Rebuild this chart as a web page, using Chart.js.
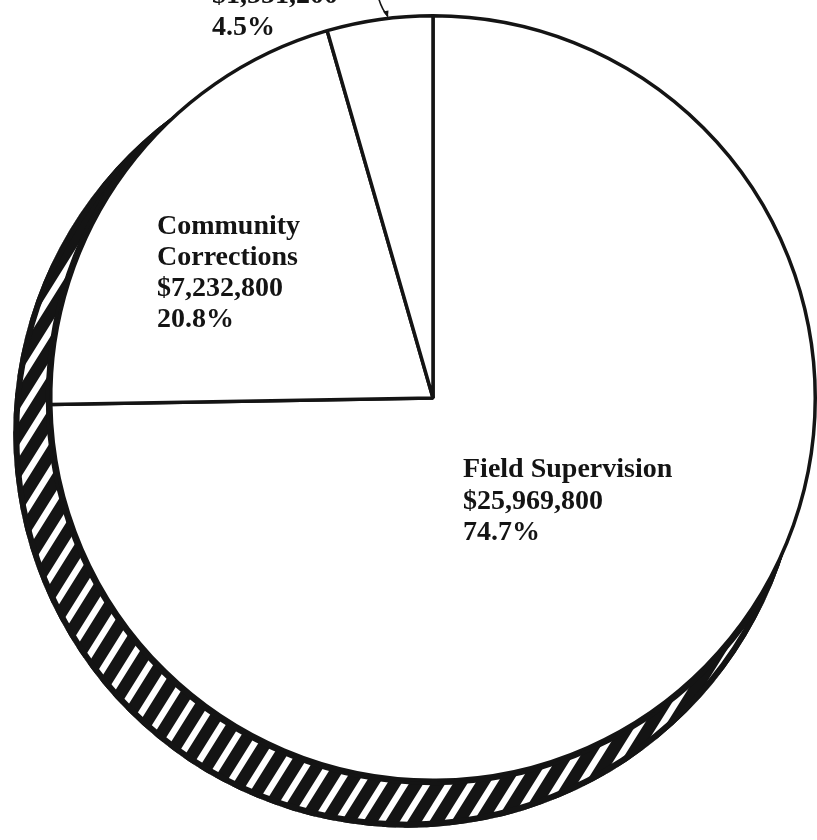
<!DOCTYPE html>
<html>
<head>
<meta charset="utf-8">
<script src="https://cdn.jsdelivr.net/npm/chart.js@4.4.1/dist/chart.umd.min.js"></script>
<style>
  body { margin: 0; background: #fff; }
  #wrap { width: 817px; height: 840px; position: relative; }
</style>
</head>
<body>
<div id="wrap"><canvas id="pie"></canvas></div>
<script>
// budget split (clockwise from 12 o'clock)
const programs = ['Field Supervision', 'Community\nCorrections', ''];
const amounts = [25969800, 7232800, 1551200];
const percents = ['74.7%', '20.8%', '4.5%'];

const ink = '#141414';
const labelFont = 'bold 28px "Liberation Serif", "Times New Roman", serif';

function money(v) {
  return '$' + v.toLocaleString('en-US');
}

// hatched rim under the pie, drawn from the arc geometry
const rimPlugin = {
  id: 'rim',
  beforeDatasetsDraw(chart) {
    const arc = chart.getDatasetMeta(0).data[0];
    if (!arc) return;
    const { x, y, outerRadius: r } = arc.getProps(['x', 'y', 'outerRadius'], true);
    const ox = x - 0.066 * r, oy = y + 0.092 * r, R = r * 1.032;
    const ctx = chart.ctx;
    ctx.save();
    ctx.beginPath();
    ctx.arc(ox, oy, R, 0, Math.PI * 2);
    ctx.moveTo(x + r, y);
    ctx.arc(x, y, r, 0, Math.PI * 2);
    ctx.clip('evenodd');
    ctx.fillStyle = ink;
    ctx.fillRect(0, 0, chart.width, chart.height);
    // white diagonal stripes
    ctx.strokeStyle = '#fff';
    ctx.lineWidth = 6.5;
    const slope = Math.tan(58 * Math.PI / 180);
    const h = chart.height;
    for (let sx = -h; sx < chart.width + h; sx += 22) {
      ctx.beginPath();
      ctx.moveTo(sx, h);
      ctx.lineTo(sx + h / slope, 0);
      ctx.stroke();
    }
    // black margins along both edges of the rim
    ctx.strokeStyle = ink;
    ctx.lineWidth = 12;
    ctx.beginPath();
    ctx.arc(ox, oy, R, 0, Math.PI * 2);
    ctx.stroke();
    ctx.lineWidth = 10;
    ctx.beginPath();
    ctx.arc(x, y, r, 0, Math.PI * 2);
    ctx.stroke();
    ctx.restore();
  },
  afterDatasetsDraw(chart) {
    const meta = chart.getDatasetMeta(0);
    const first = meta.data[0];
    const { x, y, outerRadius: r } = first.getProps(['x', 'y', 'outerRadius'], true);
    const ctx = chart.ctx;
    ctx.save();
    ctx.fillStyle = ink;
    ctx.font = labelFont;
    ctx.textBaseline = 'alphabetic';
    ctx.textAlign = 'left';

    // where each label block starts, relative to the pie centre
    const spots = [
      { dx: 30, dy: 79, lh: 31.5 },
      { dx: -276, dy: -164, lh: 31 },
      { dx: -221, dy: -395, lh: 32 },
    ];
    programs.forEach((name, i) => {
      const lines = name.split('\n').filter(s => s.length);
      lines.push(money(amounts[i]), percents[i]);
      const s = spots[i];
      lines.forEach((t, k) => ctx.fillText(t, x + s.dx, y + s.dy + k * s.lh));
    });

    // leader arrow into the small slice
    const small = meta.data[2];
    const { startAngle, endAngle } = small.getProps(['startAngle', 'endAngle'], true);
    const a = endAngle - 0.42 * (endAngle - startAngle);
    const tx = x + (r + 1) * Math.cos(a), ty = y + (r + 1) * Math.sin(a);
    ctx.strokeStyle = ink;
    ctx.lineWidth = 1.6;
    ctx.beginPath();
    ctx.moveTo(tx - 9, ty - 18);
    ctx.quadraticCurveTo(tx - 6, ty - 8, tx, ty - 1);
    ctx.stroke();
    ctx.beginPath();
    ctx.moveTo(tx, ty);
    ctx.lineTo(tx - 5, ty - 6);
    ctx.lineTo(tx + 0.5, ty - 7);
    ctx.closePath();
    ctx.fill();
    ctx.restore();
  }
};

new Chart(document.getElementById('pie'), {
  type: 'pie',
  data: {
    labels: programs.map(p => p.replace('\n', ' ')),
    datasets: [{
      data: amounts,
      backgroundColor: '#fff',
      borderColor: ink,
      borderWidth: 3.5,
      hoverOffset: 0,
    }],
  },
  options: {
    responsive: true,
    maintainAspectRatio: false,
    animation: false,
    layout: { padding: { left: 49, right: 0, top: 14, bottom: 58 } },
    plugins: {
      legend: { display: false },
      tooltip: { enabled: false },
    },
  },
  plugins: [rimPlugin],
});
</script>
</body>
</html>
